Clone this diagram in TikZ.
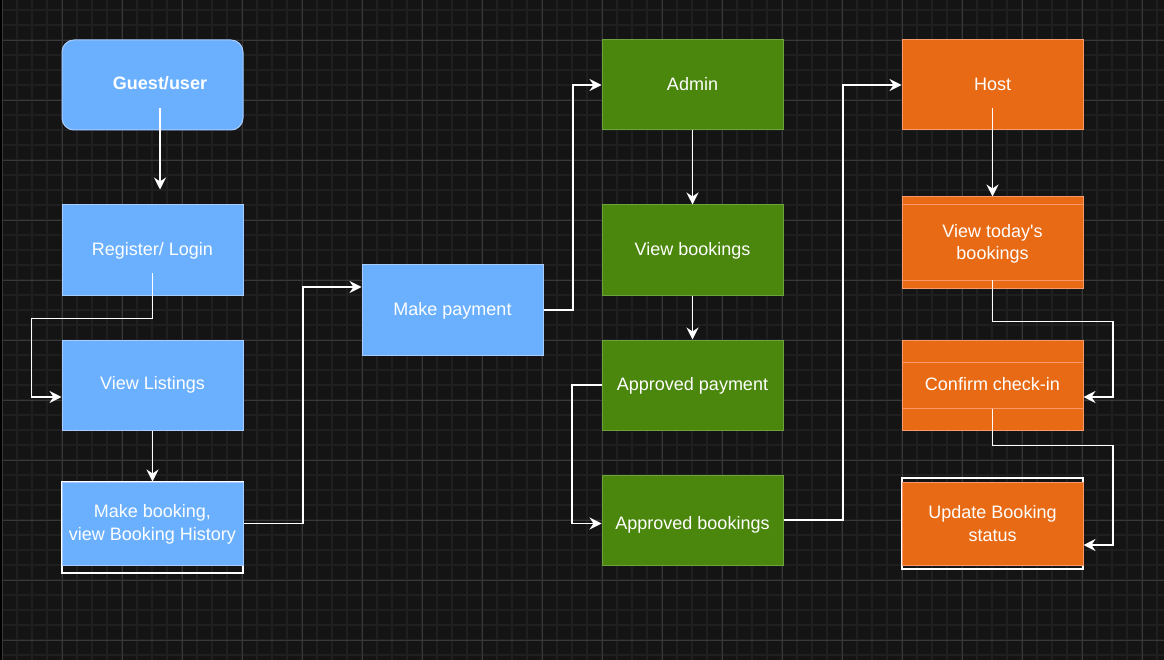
\documentclass[tikz,border=0pt]{standalone}
\usepackage{fontspec}
\setmainfont{Liberation Sans}
\usetikzlibrary{arrows.meta,calc}
\definecolor{bgc}{HTML}{141414}
\definecolor{minorc}{HTML}{1F1F1F}
\definecolor{majorc}{HTML}{383838}
\definecolor{bluef}{HTML}{6AB0FF}
\definecolor{blued}{HTML}{A9CBFF}
\definecolor{greenf}{HTML}{4A870C}
\definecolor{greend}{HTML}{6DA33C}
\definecolor{orangef}{HTML}{E86A14}
\definecolor{oranged}{HTML}{F89A6A}
\newcommand{\shiftt}[2]{\raisebox{#1}[\height][\depth]{#2}}
\tikzset{
  box/.style={rectangle, minimum width=181pt, minimum height=90pt, inner sep=0pt,
    line width=1pt, text=white, align=center,
    font=\fontsize{18}{23}\selectfont},
  bluebox/.style={box, fill=bluef, draw=blued},
  greenbox/.style={box, fill=greenf, draw=greend},
  orangebox/.style={box, fill=orangef, draw=oranged},
  arr/.style={draw=white, line width=1.4pt,
    -{Stealth[length=12pt,width=12pt,inset=4pt]}},
  lbl/.style={text=white, font=\fontsize{18}{23}\selectfont, inner sep=0pt},
}
\begin{document}
\begin{tikzpicture}[x=1pt,y=-1pt]
\fill[bgc] (0,0) rectangle (1164,660);
\useasboundingbox (0,0) rectangle (1164,660);
% minor grid
\foreach \i in {0,...,77} {
  \draw[minorc, line width=1.5pt] ({2+15*\i},0) -- ({2+15*\i},660);
}
\foreach \j in {0,...,44} {
  \draw[minorc, line width=1.5pt] (0,{-5+15*\j}) -- (1164,{-5+15*\j});
}
% major grid
\foreach \i in {0,...,19} {
  \draw[majorc, line width=0.9pt] ({2+60*\i},0) -- ({2+60*\i},660);
}
\foreach \j in {0,...,10} {
  \draw[majorc, line width=0.9pt] (0,{40+60*\j}) -- (1164,{40+60*\j});
}
\fill[black] (0,0) rectangle (2,660);

% white outlines behind two boxes
\draw[white, line width=1.3pt] (62,482) rectangle (243,573);
\draw[white, line width=1.3pt] (902,478) rectangle (1083,569);

% blue column
\node[bluebox, rounded corners=12pt] (guest) at (152.5,85) {};
\node[lbl, font=\fontsize{18}{23}\selectfont\bfseries] (guestlbl) at (160,83.5) {Guest/user};
\node[bluebox] (reg) at (152.5,250) {\shiftt{-1pt}{Register/ Login}};
\node[bluebox] (list) at (152.5,385) {View Listings};
\node[bluebox, minimum height=83pt] (book) at (152.5,523.5) {\shiftt{-1pt}{\begin{tabular}{@{}c@{}}Make booking,\\[0.5pt]view Booking History\end{tabular}}};
\node[bluebox] (pay) at (452.5,310) {\shiftt{-1pt}{Make payment}};

% green column
\node[greenbox] (admin) at (692.5,85) {\shiftt{1pt}{Admin}};
\node[greenbox] (vb) at (692.5,250) {\shiftt{-1pt}{View bookings}};
\node[greenbox] (ap) at (692.5,385) {\shiftt{-1pt}{Approved payment}};
\node[greenbox] (ab) at (692.5,520) {\shiftt{-5pt}{Approved bookings}};

% orange column
\node[orangebox] (host) at (992.5,85) {\shiftt{1pt}{Host}};
\node[orangebox, minimum height=91pt] (vt) at (992.5,242.5) {\shiftt{-1pt}{\begin{tabular}{@{}c@{}}View today\textquotesingle s\\[-1pt]bookings\end{tabular}}};
\draw[oranged, line width=0.9pt] ([yshift=-8pt]vt.north west) -- ([yshift=-8pt]vt.north east);
\draw[oranged, line width=0.9pt] ([yshift=8pt]vt.south west) -- ([yshift=8pt]vt.south east);
\node[orangebox] (cc) at (992.5,385) {\shiftt{1pt}{Confirm check-in}};
\draw[oranged, line width=0.9pt] ([yshift=-23pt]cc.north west) -- ([yshift=-23pt]cc.north east);
\draw[oranged, line width=0.9pt] ([yshift=22pt]cc.south west) -- ([yshift=22pt]cc.south east);
\node[orangebox, minimum height=83pt] (ub) at (992.5,523.5) {Update Booking\\status};

% connectors
\draw[arr] ([xshift=7.5pt,yshift=22pt]guest.south) -- ([xshift=7.5pt,yshift=15pt]reg.north);
\draw[arr] ([yshift=22pt]reg.south) -- ++(0,-45pt) -| ([xshift=-30pt,yshift=-12pt]list.west) -- ([yshift=-12pt]list.west);
\draw[arr] (list.south) -- (book.north);
\draw[arr] (book.east) -- ++(59.5pt,0) |- ([yshift=23pt]pay.west);
\draw[arr] (pay.east) -- ++(29.5pt,0) |- (admin.west);
\draw[arr] (admin.south) -- (vb.north);
\draw[arr] (vb.south) -- (ap.north);
\draw[arr] (ap.west) -- ++(-29.5pt,0) |- ([yshift=-3.5pt]ab.west);
\draw[arr] (ab.east) -- ++(59.5pt,0) |- (host.west);
\draw[arr] ([yshift=22pt]host.south) -- (vt.north);
\draw[arr] ([yshift=8pt]vt.south) -- ++(0,-41pt) -| ([xshift=29.5pt,yshift=-12pt]cc.east) -- ([yshift=-12pt]cc.east);
\draw[arr] ([yshift=22pt]cc.south) -- ++(0,-37pt) -| ([xshift=29.5pt,yshift=-21.5pt]ub.east) -- ([yshift=-21.5pt]ub.east);
\end{tikzpicture}
\end{document}
